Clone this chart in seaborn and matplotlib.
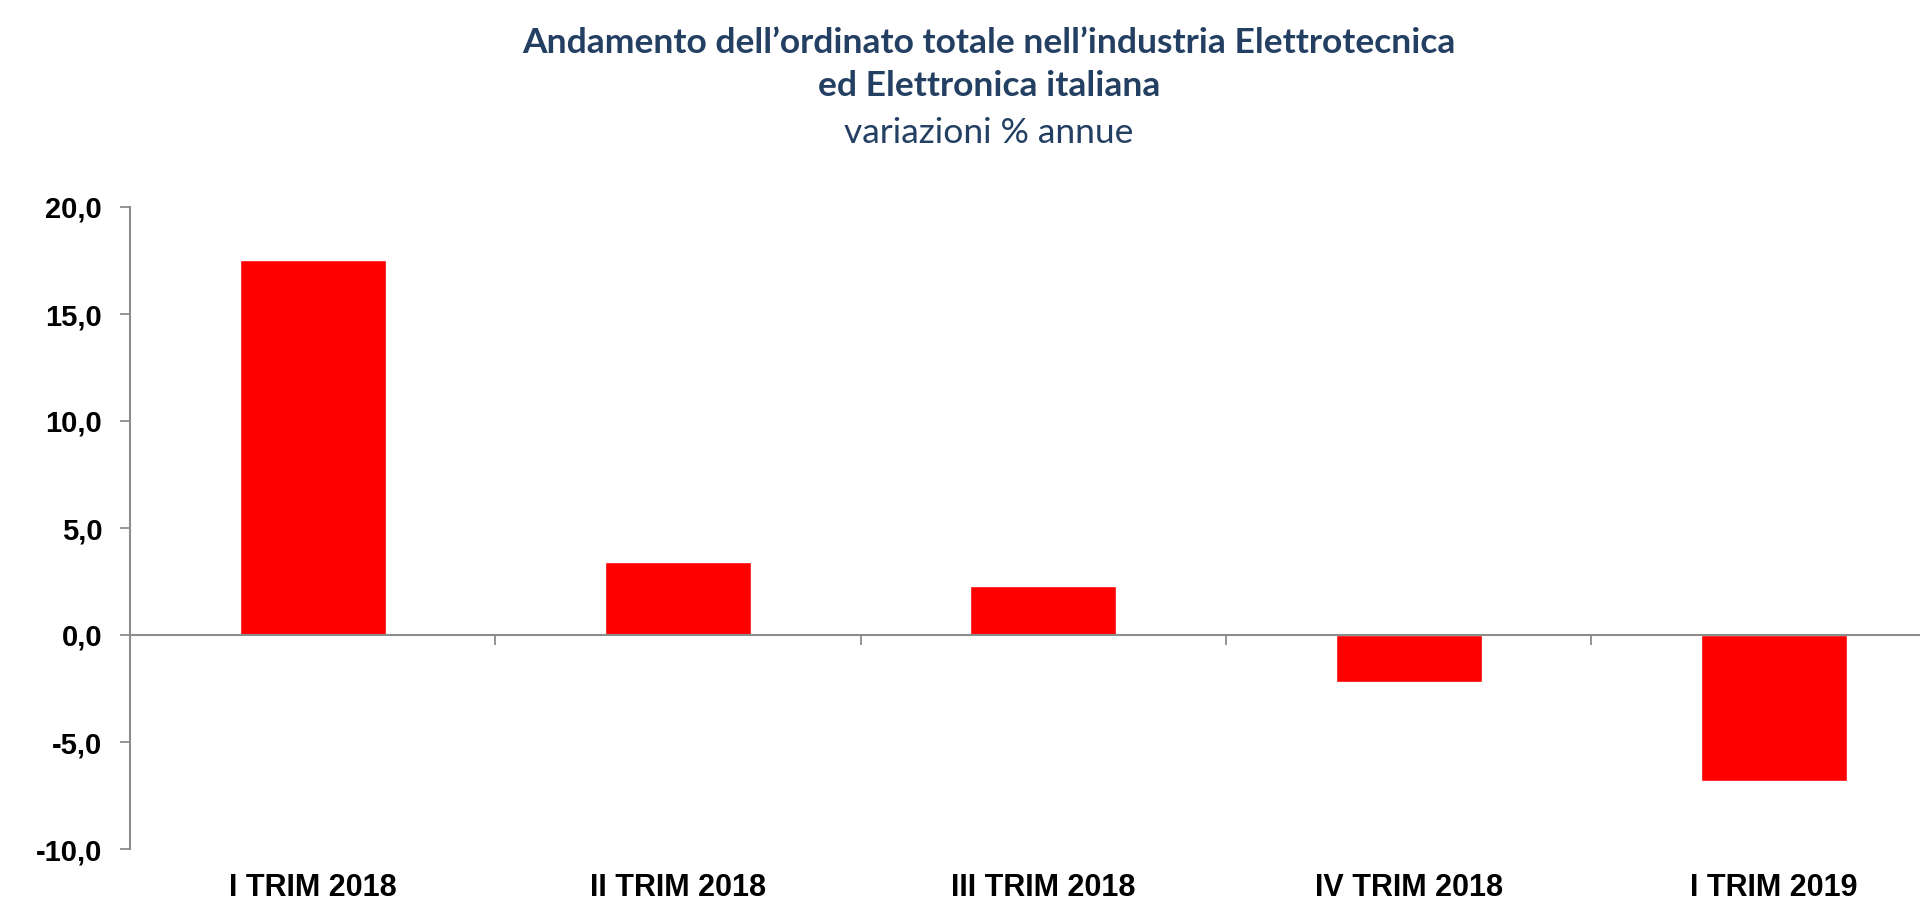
import matplotlib
matplotlib.use('Agg')
import matplotlib.pyplot as plt
import seaborn as sns
import pandas as pd

# dati (variazioni % annue)
trimestri = ['I TRIM 2018', 'II TRIM 2018', 'III TRIM 2018', 'IV TRIM 2018', 'I TRIM 2019']
variazioni = [17.5, 3.4, 2.3, -2.2, -6.8]
y_ticks = [-10, -5, 0, 5, 10, 15, 20]

df = pd.DataFrame({'Trimestre': trimestri, 'Variazione': variazioni})

sns.set_theme(style='white')
plt.rcParams['font.family'] = ['Liberation Sans', 'DejaVu Sans']

grigio = '#8c8c8c'
blu_titolo = '#233F62'

fig = plt.figure(figsize=(19.2, 9.22), dpi=100)
ax = fig.add_axes([130 / 1920, 1 - 849 / 922, 1 - 130 / 1920, (849 - 207) / 922])

sns.barplot(data=df, x='Trimestre', y='Variazione', color='#FF0000',
            saturation=1, width=0.4, ax=ax)

ax.set_ylim(-10, 20)
ax.set_xlim(-0.5, 4.4)
ax.set_yticks(y_ticks)
ax.set_yticklabels([f'{v:.1f}'.replace('.', ',') for v in y_ticks])
ax.set_xticks(range(len(trimestri)))
ax.set_xticklabels(trimestri)
ax.set_xticks([i + 0.5 for i in range(len(trimestri) - 1)], minor=True)
ax.set_xlabel('')
ax.set_ylabel('')

# assi in stile Excel
for s in ['top', 'right']:
    ax.spines[s].set_visible(False)
for s in ['left', 'bottom']:
    ax.spines[s].set_color(grigio)
    ax.spines[s].set_linewidth(1.5)
ax.spines['bottom'].set_position(('data', 0))

ax.tick_params(axis='x', which='major', bottom=True, length=0, pad=171,
               labelsize=22)
ax.tick_params(axis='x', which='minor', bottom=True, length=7, width=1.3,
               color=grigio, direction='out')
ax.tick_params(axis='y', left=True, length=7, width=1.3, color=grigio,
               direction='out', pad=13, labelsize=21)
for lab in ax.get_xticklabels() + ax.get_yticklabels():
    lab.set_fontweight('bold')
    lab.set_color('black')

# titolo
font_titolo = ['Lato', 'DejaVu Sans']
fig.text(0.515, 1 - 53 / 922, 'Andamento dell’ordinato totale nell’industria Elettrotecnica',
         ha='center', va='baseline', fontsize=25.5, fontweight='bold', color=blu_titolo,
         family=font_titolo)
fig.text(0.515, 1 - 96 / 922, 'ed Elettronica italiana',
         ha='center', va='baseline', fontsize=25.5, fontweight='bold', color=blu_titolo,
         family=font_titolo)
fig.text(0.515, 1 - 143 / 922, 'variazioni % annue',
         ha='center', va='baseline', fontsize=25.5, color=blu_titolo,
         family=font_titolo)

fig.savefig('out.png', dpi=100)
